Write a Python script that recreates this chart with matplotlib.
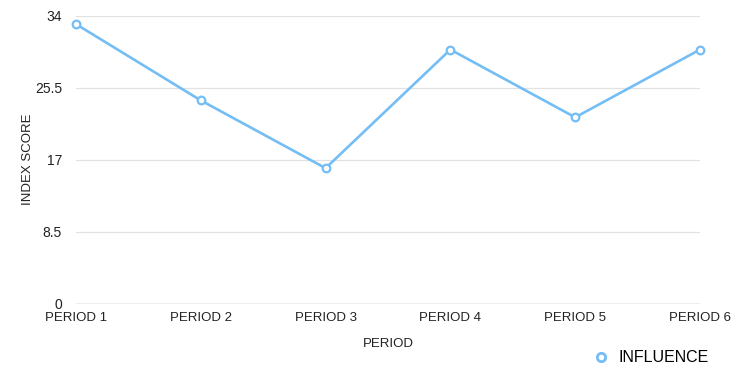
import matplotlib.pyplot as plt
from matplotlib.lines import Line2D

plt.rcParams['font.family'] = ['Liberation Sans', 'DejaVu Sans']

periods = ['PERIOD 1', 'PERIOD 2', 'PERIOD 3', 'PERIOD 4', 'PERIOD 5', 'PERIOD 6']
influence = [33, 24, 16, 30, 22, 30]
y_ticks = [0, 8.5, 17, 25.5, 34]
y_tick_labels = ['0', '8.5', '17', '25.5', '34']

line_color = '#74bdf5'

fig = plt.figure(figsize=(7.34, 3.66), dpi=100)
ax = fig.add_axes([76 / 734, 62.3 / 366, 624 / 734, 288 / 366])

x = list(range(len(periods)))
ax.plot(x, influence, color=line_color, linewidth=1.9, marker='o', markersize=5.5,
        markerfacecolor='white', markeredgecolor=line_color, markeredgewidth=1.6,
        zorder=3, clip_on=False)

ax.set_xlim(0, len(periods) - 1)
ax.set_ylim(0, 34)
ax.set_xticks(x)
ax.set_xticklabels(periods)
ax.set_yticks(y_ticks)
ax.set_yticklabels(y_tick_labels)
ax.tick_params(length=0, labelsize=9.5, colors='#222222')
ax.tick_params(axis='y', labelsize=10, pad=10)
ax.tick_params(axis='x', pad=6)

for s in ax.spines.values():
    s.set_visible(False)
for t in y_ticks[1:]:
    ax.axhline(t, color='#e2e2e2', linewidth=0.9, zorder=1)
ax.axhline(0, color='#aaaaaa', linewidth=1.0, zorder=1)

ax.set_xlabel('PERIOD', fontsize=9.5, color='#222222', labelpad=10)
ax.set_ylabel('INDEX SCORE', fontsize=9.5, color='#222222', labelpad=1)

# legend shows the marker only
handle = Line2D([], [], linestyle='none', marker='o', markersize=6,
                markerfacecolor='white', markeredgecolor=line_color, markeredgewidth=2)
fig.legend([handle], ['INFLUENCE'], loc='center right',
           bbox_to_anchor=(715 / 734, 8 / 366), frameon=False,
           fontsize=11.5, handlelength=1.0, handletextpad=0.6, borderaxespad=0)

fig.savefig('out.png', dpi=100)
